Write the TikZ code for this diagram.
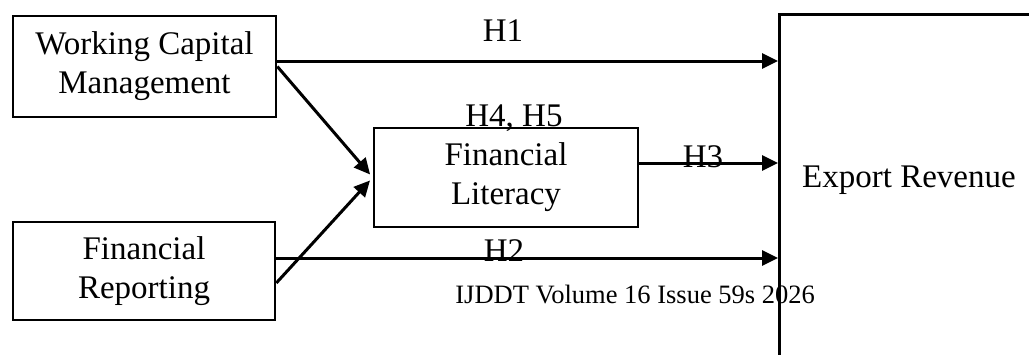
\documentclass[tikz,border=0pt]{standalone}
\usepackage{fontspec}
\setmainfont{Liberation Serif}
\usetikzlibrary{arrows.meta}

\begin{document}
\begin{tikzpicture}
[
	x=0.5pt, y=-0.5pt,
	box/.style={draw,line width=1.3pt,align=center,inner sep=0pt,
		font=\fontsize{16.5}{19.5}\selectfont},
	hyp/.style={anchor=base,inner sep=0pt,font=\fontsize{16.5}{19.5}\selectfont},
	arr/.style={line width=1.5pt,-{Triangle[length=8pt,width=7.5pt]}}
]

	\useasboundingbox (0,0) rectangle (1029,354);
	\clip (0,0) rectangle (1029,354);

	% boxes
	\node[box,minimum width=131.5pt,minimum height=50.5pt] (wcm) at (144.5,66.5) {Working Capital\\Management};
	\node[box,minimum width=131pt,minimum height=49pt] (frep) at (144,271) {Financial\\Reporting};
	\node[box,minimum width=132pt,minimum height=49.5pt] (flit) at (506,177.5) {Financial\\Literacy};
	\node[box,anchor=north west,minimum width=160pt,minimum height=220pt] (exrev) at (778,13) {};
	\node[hyp] (exlabel) at (909,187) {Export Revenue};

	% direct paths
	\draw[arr] ([yshift=2.75pt]wcm.east) -- ([yshift=2.75pt]wcm.east -| exrev.west);
	\draw[arr] ([yshift=6.5pt]frep.east) -- ([yshift=6.5pt]frep.east -| exrev.west);
	\draw[arr] ([yshift=7.25pt]flit.east) -- ([yshift=7.25pt]flit.east -| exrev.west);

	% paths into the mediator
	\draw[arr,shorten >=2pt] (wcm.east) -- (flit.west);
	\draw[arr,shorten >=2pt] ([yshift=-6pt]frep.east) -- (flit.west);

	% labels
	\node[hyp] (h1) at (503,41) {H1};
	\node[hyp] (h45) at (514,126) {H4, H5};
	\node[hyp] (h3) at (703,167) {H3};
	\node[hyp] (h2) at (504,261) {H2};
	\node[anchor=base west,inner sep=0pt,font=\fontsize{13.25}{15}\selectfont] (foot) at (455,303) {IJDDT Volume 16 Issue 59s 2026};

\end{tikzpicture}
\end{document}
